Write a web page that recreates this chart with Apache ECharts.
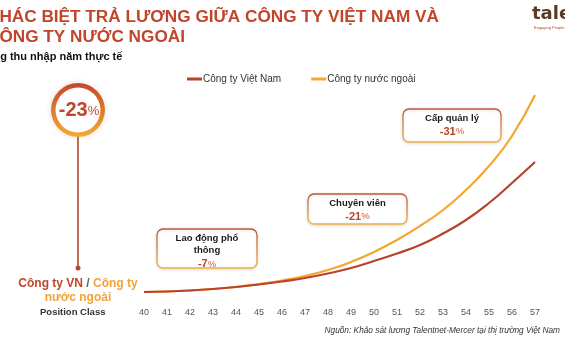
<!DOCTYPE html>
<html>
<head>
<meta charset="utf-8">
<script src="https://cdn.jsdelivr.net/npm/echarts@6/dist/echarts.min.js"></script>
<style>
  html, body { margin: 0; padding: 0; background: #fff; }
  #chart { width: 565px; height: 339px; }
</style>
</head>
<body>
<div id="chart"></div>
<script>
// Position classes on the x axis
const positionClasses = ['40','41','42','43','44','45','46','47','48','49','50','51','52','53','54','55','56','57'];

// Annual actual income index by position class
const vnIncome      = [19, 19.5, 20.5, 22, 24, 26.5, 29.5, 33, 37.5, 43, 50, 57.5, 66, 77.5, 91, 108, 128, 149];
const foreignIncome = [19, 19.5, 20.5, 22, 24, 27, 30.5, 35, 41, 49, 59, 71, 85, 101, 121, 145, 175, 216];

const seriesNames = ['Công ty Việt Nam', 'Công ty nước ngoài'];

const RED = '#b8432b';
const ORANGE = '#f4a62e';
const FONT = '"Liberation Sans", Arial, sans-serif';

const chart = echarts.init(document.getElementById('chart'), null, { renderer: 'canvas' });

function vGrad(top, bottom) {
  return { type: 'linear', x: 0, y: 0, x2: 0, y2: 1,
    colorStops: [{ offset: 0, color: top }, { offset: 1, color: bottom }] };
}

// Rounded callout box with a job level and its pay gap
function callout(x, y, w, h, lines, pct) {
  const body = lines.map(l => '{t|' + l + '}').join('\n');
  return [
    {
      type: 'rect',
      shape: { x: x, y: y, width: w, height: h, r: 6 },
      style: { fill: '#fff', stroke: vGrad('#b9563c', '#f1b244'), lineWidth: 1.3,
               shadowBlur: 3, shadowColor: 'rgba(0,0,0,0.12)', shadowOffsetY: 1 },
      z: 10
    },
    {
      type: 'text',
      x: x + w / 2,
      y: y + 3,
      style: {
        text: body + '\n{p|' + pct + '}{s|%}',
        align: 'center',
        verticalAlign: 'top',
        fontFamily: FONT,
        rich: {
          t: { fontSize: 9.5, fontWeight: 'bold', fill: '#1a1a1a', lineHeight: 12.5, align: 'center', fontFamily: FONT },
          p: { fontSize: 11, fontWeight: 'bold', fill: '#b8432b', lineHeight: 14, fontFamily: FONT },
          s: { fontSize: 9.5, fill: '#cc5a3d', lineHeight: 14, fontFamily: FONT }
        }
      },
      z: 11
    }
  ];
}

const graphics = [
  // Heading
  { type: 'text', x: -13, y: 9, style: { text: 'KHÁC BIỆT TRẢ LƯƠNG GIỮA CÔNG TY VIỆT NAM VÀ', fontFamily: FONT,
      fontSize: 17.2, fontWeight: 'bold', fill: '#c0452b' } },
  { type: 'text', x: -13, y: 29, style: { text: 'CÔNG TY NƯỚC NGOÀI', fontFamily: FONT,
      fontSize: 17.2, fontWeight: 'bold', fill: '#c0452b' } },
  { type: 'text', x: -20, y: 51, style: { text: 'Tổng thu nhập năm thực tế', fontFamily: FONT,
      fontSize: 11, fontWeight: 'bold', fill: '#111' } },
  // Brand mark
  { type: 'text', x: 532, y: 5, style: { text: 'talentnet', fontFamily: '"DejaVu Sans", sans-serif',
      fontSize: 18, fontWeight: 'bold', fill: '#5b3a24' } },
  { type: 'text', x: 534, y: 26, style: { text: 'Engaging People', fontFamily: FONT,
      fontSize: 4, fill: '#c0452b' } },

  // Overall gap badge
  { type: 'line', shape: { x1: 78, y1: 136, x2: 78, y2: 268 }, style: { stroke: '#b34a2f', lineWidth: 1.6 } },
  { type: 'circle', shape: { cx: 78, cy: 268, r: 2.5 }, style: { fill: '#b34a2f' } },
  { type: 'circle', shape: { cx: 78, cy: 110, r: 27 },
    style: { fill: '#fff', shadowBlur: 6, shadowColor: 'rgba(0,0,0,0.12)' } },
  { type: 'ring', shape: { cx: 78, cy: 110, r: 27, r0: 22.5 },
    style: { fill: vGrad('#c4472b', '#f5ab32') } },
  { type: 'text', x: 79, y: 110, style: {
      text: '{n|-23}{s|%}', align: 'center', verticalAlign: 'middle', fontFamily: FONT,
      rich: {
        n: { fontSize: 20, fontWeight: 'bold', fill: '#c0452b', fontFamily: FONT },
        s: { fontSize: 13, fill: '#c0452b', fontFamily: FONT, padding: [3, 0, 0, 0] }
      } } },

  // Series caption under the badge
  { type: 'text', x: 78, y: 277, style: {
      text: '{r|Công ty VN} {g|/} {o|Công ty}\n{o|nước ngoài}', align: 'center', verticalAlign: 'top', fontFamily: FONT,
      rich: {
        r: { fontSize: 12, fontWeight: 'bold', fill: '#c0452b', lineHeight: 14, fontFamily: FONT },
        g: { fontSize: 12, fontWeight: 'bold', fill: '#666', lineHeight: 14, fontFamily: FONT },
        o: { fontSize: 12, fontWeight: 'bold', fill: '#f2a33a', lineHeight: 14, fontFamily: FONT }
      } } },
  { type: 'text', x: 40, y: 307, style: { text: 'Position Class', fontFamily: FONT,
      fontSize: 9.5, fontWeight: 'bold', fill: '#333' } },

  // Source note
  { type: 'text', x: 560, y: 327, style: { text: 'Nguồn: Khảo sát lương Talentnet-Mercer tại thị trường Việt Nam',
      align: 'right', fontFamily: FONT, fontSize: 8.3, fontStyle: 'italic', fill: '#333' } }
]
  .concat(callout(157, 229, 100, 39, ['Lao động phổ', 'thông'], '-7'))
  .concat(callout(308, 194, 99, 30, ['Chuyên viên'], '-21'))
  .concat(callout(403, 109, 98, 33, ['Cấp quản lý'], '-31'));

chart.setOption({
  animation: false,
  backgroundColor: '#fff',
  textStyle: { fontFamily: FONT },
  legend: {
    top: 69, left: 182,
    icon: 'rect', itemWidth: 15, itemHeight: 3, itemGap: 30,
    textStyle: { fontSize: 10, color: '#333', fontFamily: FONT, padding: [0, 0, 0, -4] },
    data: seriesNames
  },
  grid: { left: 144, right: 30, top: 11, bottom: 28 },
  xAxis: {
    type: 'category',
    data: positionClasses,
    boundaryGap: false,
    axisLine: { show: false },
    axisTick: { show: false },
    splitLine: { show: false },
    axisLabel: { fontSize: 9, color: '#555', margin: -3, fontFamily: FONT }
  },
  yAxis: { type: 'value', min: 0, max: 300, show: false },
  series: [
    { name: seriesNames[0], type: 'line', data: vnIncome, smooth: true, showSymbol: false,
      lineStyle: { width: 2.2, color: RED }, itemStyle: { color: RED }, z: 3 },
    { name: seriesNames[1], type: 'line', data: foreignIncome, smooth: true, showSymbol: false,
      lineStyle: { width: 2.2, color: ORANGE }, itemStyle: { color: ORANGE }, z: 2 }
  ],
  graphic: graphics
});
</script>
</body>
</html>
